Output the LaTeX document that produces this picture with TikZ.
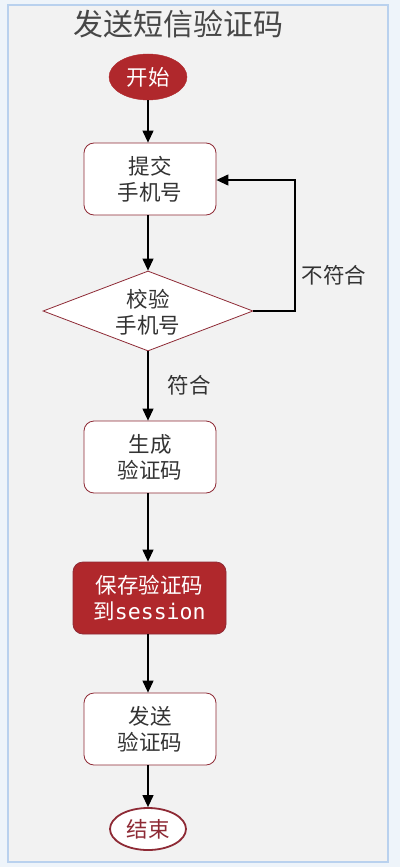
\documentclass[tikz,border=0pt]{standalone}
\usepackage{fontspec}
\setmainfont{Noto Sans CJK SC}
\newfontfamily\monof{DejaVu Sans Mono}
\usetikzlibrary{arrows.meta,shapes.geometric,positioning}
\definecolor{dred}{HTML}{B0282C}
\definecolor{bord}{HTML}{8E2A35}
\definecolor{txt}{HTML}{333333}
\definecolor{bg}{HTML}{F2F2F2}
\definecolor{outer}{HTML}{EEF4FA}
\definecolor{frame}{HTML}{B9D1EE}
\tikzset{
  conn/.style={draw=black,line width=1.2pt,-{Triangle[width=11pt,length=12pt]}},
  bodyfont/.style={font=\fontsize{21.5}{26}\selectfont},
  procbox/.style={draw=bord,line width=0.8pt,fill=white,rounded corners=10pt,minimum width=132pt,minimum height=72pt,align=center,bodyfont,text=txt,inner sep=0pt},
  keybox/.style={draw=bord,line width=0.8pt,fill=dred,rounded corners=10pt,minimum width=153pt,minimum height=72pt,align=center,bodyfont,text=white,inner sep=0pt},
  decide/.style={draw=bord,line width=0.8pt,fill=white,diamond,minimum width=210pt,minimum height=80pt,inner sep=0pt},
  decidetext/.style={align=center,bodyfont,text=txt,inner sep=0pt},
  startnode/.style={ellipse,fill=dred,draw=dred,minimum width=78pt,minimum height=46pt,text=white,bodyfont,inner sep=0pt},
  endnode/.style={ellipse,fill=white,draw=bord,line width=1.8pt,minimum width=76pt,minimum height=42pt,text=bord,bodyfont,inner sep=0pt},
  lbl/.style={bodyfont,text=txt,inner sep=0pt}
}
\begin{document}
\begin{tikzpicture}[x=1pt,y=-1pt]
\useasboundingbox (0,0) rectangle (400,867);
\fill[outer] (0,0) rectangle (400,867);
\draw[frame,line width=2pt,fill=bg] (8,5) rectangle (388,862);
\node[font=\fontsize{30}{34}\selectfont,text=txt!90] (title) at (178,24) {发送短信验证码};
\node[startnode] (start) at (148,77) {开始};
\node[procbox] (submit) at (150,179) {提交\\手机号};
\node[decide] (check) at (148,311) {};
\node[decidetext] (checktext) at (148,312) {校验\\手机号};
\node[procbox] (gen) at (150,457) {生成\\验证码};
\node[keybox] (save) at (149.5,598) {保存验证码\\到{\monof session}};
\node[procbox] (send) at (150,729) {发送\\验证码};
\node[endnode] (end) at (148,829) {结束};
\coordinate (c1) at (295,311);
\coordinate (c2) at (295,180);
\draw[conn] (start.south) -- (start.south |- submit.north);
\draw[conn] (start.south |- submit.south) -- (check.north);
\draw[conn] (check.east) -- (c1) -- (c2) -- (submit.east |- c2);
\node[lbl] (no) at (334,275) {不符合};
\draw[conn] (check.south) -- (check.south |- gen.north);
\node[lbl] (yes) at (189,385) {符合};
\draw[conn] (check.south |- gen.south) -- (check.south |- save.north);
\draw[conn] (check.south |- save.south) -- (check.south |- send.north);
\draw[conn] (check.south |- send.south) -- (end.north);
\end{tikzpicture}
\end{document}
